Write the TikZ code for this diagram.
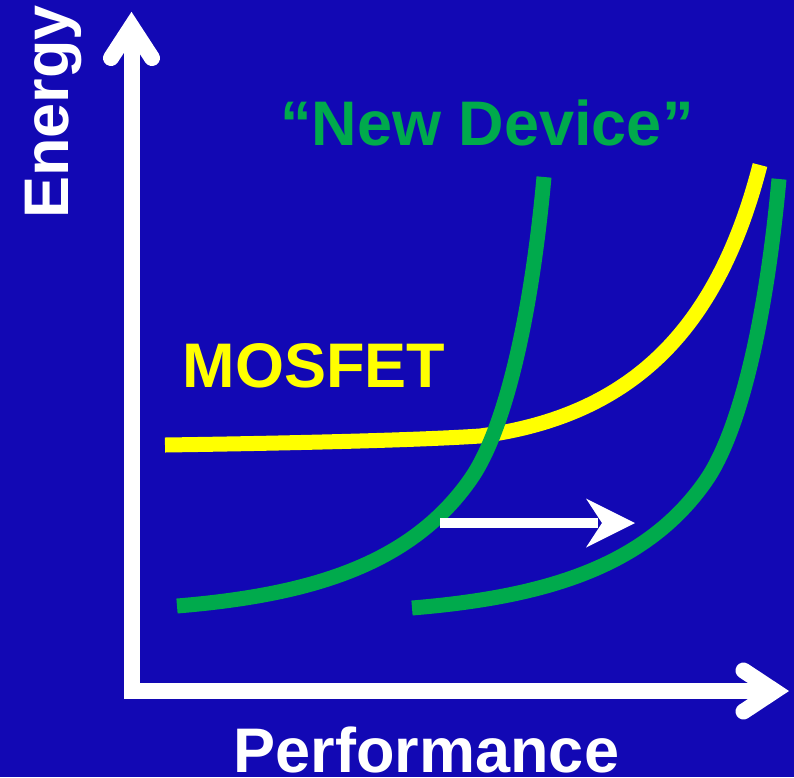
\documentclass[tikz,border=0pt]{standalone}
\usepackage{fontspec}
\setmainfont{Liberation Sans}
\usetikzlibrary{calc}
\definecolor{bg}{RGB}{18,8,180}
\definecolor{devgreen}{RGB}{0,170,76}
\definecolor{mosyellow}{RGB}{255,255,0}
\begin{document}
\begin{tikzpicture}[x={(1pt,0pt)}, y={(0pt,-1pt)},
  axisline/.style={draw=white, line width=16pt, line join=miter},
  curve/.style={line width=15pt, line cap=butt},
  lbl/.style={inner sep=0pt, anchor=base, font=\fontsize{63}{70}\selectfont\bfseries},
  shiftarrow/.style={draw=white, line width=10pt}]
\fill[bg] (0,0) rectangle (794,777);
\useasboundingbox (0,0) rectangle (794,777);
% axes
\coordinate (ytop) at (131.5,30);
\coordinate (origin) at (131.5,691);
\coordinate (xend) at (776,691);
\draw[axisline] (ytop) -- (origin) -- (xend);
\draw[axisline, line cap=round] (111,58) -- (131.5,26.5) -- (152,58);
\draw[axisline, line cap=round] (743.5,670.5) -- (774.5,691) -- (743.5,711.5);
% MOSFET curve
\draw[curve, mosyellow] (165,445) .. controls (300,443) and (420,440) .. (480,436)
  .. controls (640,415) and (720,320) .. (760,165);
% New device curves
\draw[curve, devgreen] (177,606) .. controls (310,595) and (410,565) .. (470,480)
  .. controls (502,435) and (530,330) .. (544,177);
\draw[curve, devgreen, shift={(235,2)}] (177,606) .. controls (310,595) and (410,565) .. (470,480)
  .. controls (502,435) and (530,330) .. (544,177);
% shift arrow
\coordinate (sA) at (440,523);
\coordinate (sB) at (635,523);
\draw[shiftarrow] (sA) -- ($(sB)+(-37,0)$);
\fill[white] (sB) -- ++(-49,-24.5) -- ++(16,24.5) -- ++(-16,24.5) -- cycle;
% labels
\node[lbl, text=white, rotate=90] (energy) at (68,112) {Energy};
\node[lbl, text=mosyellow] (mosfet) at (314,387) {MOSFET};
\node[lbl, text=devgreen] (newdev) at (487,145) {“New Device”};
\node[lbl, text=white] (perf) at (426.5,772) {Performance};
\end{tikzpicture}
\end{document}
